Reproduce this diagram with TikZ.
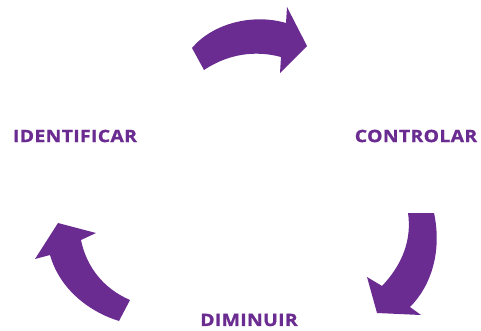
\documentclass[tikz,border=0pt]{standalone}
\usepackage{fontspec}
\newfontfamily\etapafont{Open Sans}[FakeStretch=1.14,LetterSpace=2,FakeBold=1.2]
\usepackage{xcolor}
\usetikzlibrary{positioning}
\definecolor{roxo}{HTML}{6B2C91}

\begin{document}
\begin{tikzpicture}[x=1pt,y=-1pt,
    etapa/.style={font=\etapafont\bfseries\fontsize{17}{17}\selectfont, text=roxo, inner sep=0pt},
    seta/.style={fill=roxo, draw=none}]
    \useasboundingbox (0,0) rectangle (481,331);

    \node[etapa] (identificar) at (75,136) {IDENTIFICAR};
    \node[etapa] (controlar) at (416,136) {CONTROLAR};
    \node[etapa] (diminuir) at (249,320) {DIMINUIR};

    % top
    \fill[seta] (192,48) .. controls (212,24) and (252,13) .. (286,23) -- (287,7) -- (307,46)
        -- (280,73) -- (281,57) .. controls (255,50) and (228,54) .. (204,70) -- cycle;
    % right
    \fill[seta] (408,213) -- (434,213) .. controls (442,250) and (432,285) .. (410,307)
        -- (421,315) -- (377,313) -- (367,277) -- (382,286) .. controls (402,265) and (412,240) .. (408,213) -- cycle;
    % left
    \fill[seta] (130,300) .. controls (102,288) and (86,265) .. (81,240) -- (96,233) -- (58,223)
        -- (35,259) -- (50,255) .. controls (60,290) and (90,312) .. (119,321) -- cycle;
\end{tikzpicture}
\end{document}
